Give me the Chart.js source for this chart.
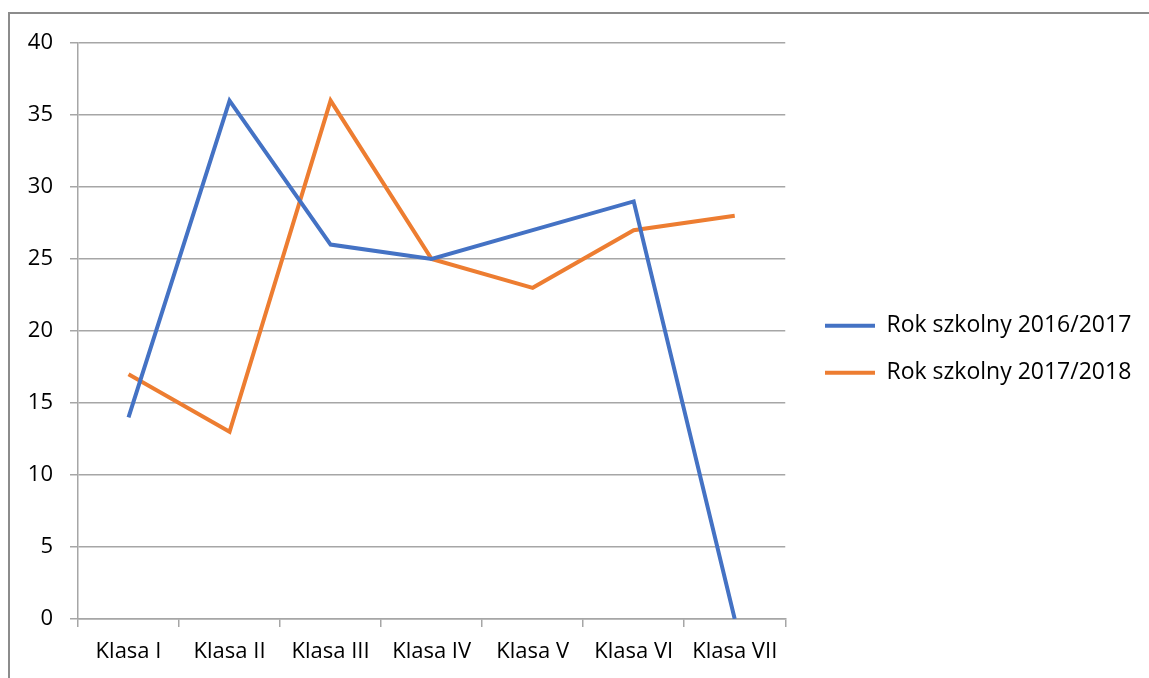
<!DOCTYPE html>
<html>
<head>
<meta charset="utf-8">
<script src="https://cdn.jsdelivr.net/npm/chart.js"></script>
<style>
  html, body { margin: 0; padding: 0; background: #fff; }
  #wrap { width: 1149px; height: 678px; }
</style>
</head>
<body>
<div id="wrap"><canvas id="mainChart" width="1149" height="678"></canvas></div>
<script>
const categories = ['Klasa I', 'Klasa II', 'Klasa III', 'Klasa IV', 'Klasa V', 'Klasa VI', 'Klasa VII'];
const rok2016 = [14, 36, 26, 25, 27, 29, 0];
const rok2017 = [17, 13, 36, 25, 23, 27, 28];
const seriesNames = ['Rok szkolny 2016/2017', 'Rok szkolny 2017/2018'];

const gridGray = '#a6a6a6';
const fontFamily = '"Open Sans", "Noto Sans", sans-serif';
const legendPad = 24;

// outer frame of the chart object (left and top edges only visible)
const framePlugin = {
    id: 'frame',
    beforeDraw(chart) {
        const c = chart.ctx;
        c.save();
        c.strokeStyle = '#8c8c8c';
        c.lineWidth = 2;
        c.beginPath();
        c.moveTo(9, 678);
        c.lineTo(9, 13);
        c.lineTo(1149, 13);
        c.stroke();
        c.restore();
    }
};

// move the legend box a bit right and let it use the full remaining width
const legendShift = {
    id: 'legendShift',
    afterLayout(chart) {
        const lg = chart.legend;
        if (!lg) return;
        lg.left = 825 - legendPad;
        lg.right = chart.width;
        lg.width = lg.right - lg.left;
    }
};

document.addEventListener('DOMContentLoaded', function() {
    const ctx = document.getElementById('mainChart');
    new Chart(ctx, {
        type: 'line',
        data: {
            labels: categories,
            datasets: [{
                label: seriesNames[0],
                data: rok2016,
                borderColor: '#4472c4',
                backgroundColor: '#4472c4',
                borderWidth: 4,
                pointRadius: 0,
                tension: 0
            }, {
                label: seriesNames[1],
                data: rok2017,
                borderColor: '#ed7d31',
                backgroundColor: '#ed7d31',
                borderWidth: 4,
                pointRadius: 0,
                tension: 0
            }]
        },
        plugins: [framePlugin, legendShift],
        options: {
            responsive: false,
            animation: false,
            layout: { padding: { top: 43, left: 0, right: 102, bottom: 0 } },
            plugins: {
                tooltip: { enabled: false },
                legend: {
                    position: 'right',
                    align: 'center',
                    fullSize: false,
                    title: { display: true, text: '', padding: 11 },
                    labels: {
                        usePointStyle: true,
                        pointStyle: 'line',
                        pointStyleWidth: 50,
                        boxHeight: 23,
                        padding: legendPad,
                        color: '#000',
                        font: { family: fontFamily, size: 23 }
                    }
                }
            },
            scales: {
                x: {
                    offset: true,
                    grid: {
                        offset: true,
                        drawOnChartArea: false,
                        drawTicks: true,
                        tickLength: 8,
                        color: gridGray,
                        lineWidth: 1.5
                    },
                    border: { color: gridGray, width: 1.5 },
                    ticks: {
                        color: '#000',
                        padding: 12,
                        maxRotation: 0,
                        autoSkip: false,
                        font: { family: fontFamily, size: 22 }
                    },
                    afterFit(scale) { scale.height = 59; }
                },
                y: {
                    min: 0,
                    max: 40,
                    ticks: {
                        stepSize: 5,
                        color: '#000',
                        padding: 17,
                        font: { family: fontFamily, size: 22 }
                    },
                    grid: {
                        color: gridGray,
                        lineWidth: 1.5,
                        tickLength: 8
                    },
                    border: { color: gridGray, width: 1.5 },
                    afterFit(scale) { scale.width = 78; }
                }
            }
        }
    });
});
</script>
</body>
</html>
